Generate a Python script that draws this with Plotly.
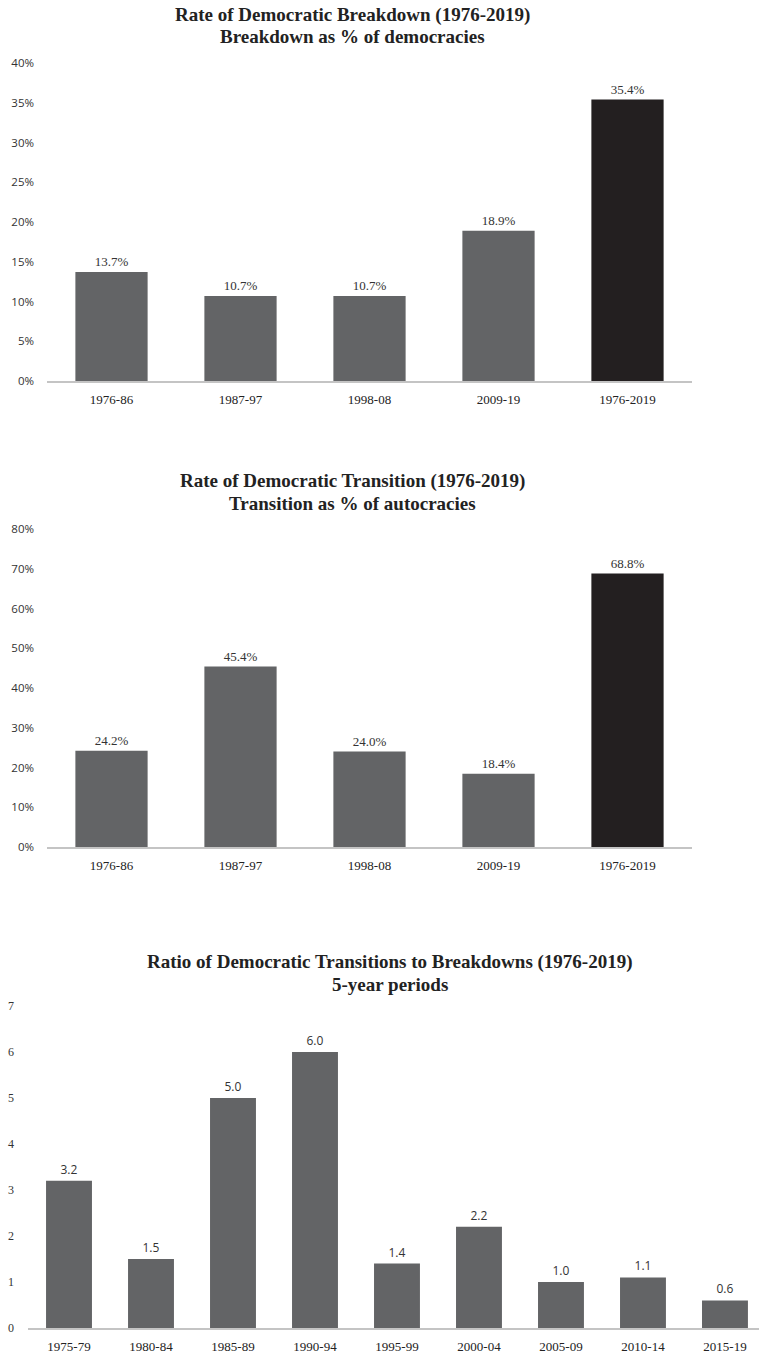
import plotly.graph_objects as go

W, H = 759, 1355

# ---- data ----
periods_11 = ["1976-86", "1987-97", "1998-08", "2009-19", "1976-2019"]
breakdown_pct = [13.7, 10.7, 10.7, 18.9, 35.4]
transition_pct = [24.2, 45.4, 24.0, 18.4, 68.8]
periods_5 = ["1975-79", "1980-84", "1985-89", "1990-94", "1995-99",
             "2000-04", "2005-09", "2010-14", "2015-19"]
ratio_values = [3.2, 1.5, 5.0, 6.0, 1.4, 2.2, 1.0, 1.1, 0.6]

titles = [
    ("Rate of Democratic Breakdown (1976-2019)", "Breakdown as % of democracies"),
    ("Rate of Democratic Transition (1976-2019)", "Transition as % of autocracies"),
    ("Ratio of Democratic Transitions to Breakdowns (1976-2019)", "5-year periods"),
]

GRAY = "#636466"
DARK = "#231f20"
AXIS = "#c4c4c4"
SERIF = "Liberation Serif"
SANS = "Open Sans"

def px_x(x):
    return x / W

def px_y(y):
    return 1 - y / H

def colors_for(n, last_dark):
    c = [GRAY] * n
    if last_dark:
        c[-1] = DARK
    return c

fig = go.Figure()

fig.add_trace(go.Bar(
    x=periods_11, y=breakdown_pct, xaxis="x", yaxis="y",
    marker=dict(color=colors_for(5, True), line=dict(width=0)),
    text=[f"{v:.1f}%" for v in breakdown_pct], textposition="outside",
    textfont=dict(family=SERIF, size=13, color="#333333"), cliponaxis=False,
    hoverinfo="skip", showlegend=False,
))
fig.add_trace(go.Bar(
    x=periods_11, y=transition_pct, xaxis="x2", yaxis="y2",
    marker=dict(color=colors_for(5, True), line=dict(width=0)),
    text=[f"{v:.1f}%" for v in transition_pct], textposition="outside",
    textfont=dict(family=SERIF, size=13, color="#333333"), cliponaxis=False,
    hoverinfo="skip", showlegend=False,
))
fig.add_trace(go.Bar(
    x=periods_5, y=ratio_values, xaxis="x3", yaxis="y3",
    marker=dict(color=colors_for(9, False), line=dict(width=0)),
    text=[f"{v:.1f}" for v in ratio_values], textposition="outside",
    textfont=dict(family=SANS, size=12, color="#333333"), cliponaxis=False,
    hoverinfo="skip", showlegend=False,
))

xcommon = dict(type="category", automargin=False, showline=True, linecolor=AXIS,
               linewidth=2, showgrid=False, zeroline=False, ticks="",
               tickfont=dict(family=SERIF, size=13, color="#222222"),
               fixedrange=True, ticklabelstandoff=5)
ycommon = dict(automargin=False, showline=False, showgrid=False, zeroline=False,
               ticks="", fixedrange=True)

fig.update_layout(
    template="none",
    width=W, height=H,
    margin=dict(l=0, r=0, t=0, b=0),
    paper_bgcolor="white", plot_bgcolor="white",
    bargap=0.44,
    xaxis=dict(**xcommon, domain=[px_x(47), px_x(692)], anchor="y",
               range=[-0.5, 4.5]),
    yaxis=dict(**ycommon, domain=[px_y(381), px_y(63)], anchor="x",
               range=[0, 40], dtick=5, ticksuffix="%",
               tickfont=dict(family=SANS, size=11.5, color="#333333"),
               ticklabelstandoff=12),
    xaxis2=dict(**xcommon, domain=[px_x(47), px_x(692)], anchor="y2",
                range=[-0.5, 4.5]),
    yaxis2=dict(**ycommon, domain=[px_y(847), px_y(529)], anchor="x2",
                range=[0, 80], dtick=10, ticksuffix="%",
                tickfont=dict(family=SANS, size=11.5, color="#333333"),
                ticklabelstandoff=12),
    xaxis3=dict(**xcommon, domain=[px_x(28), 1.0], anchor="y3",
                range=[-0.5, 8.415]),
    yaxis3=dict(**ycommon, domain=[px_y(1328), px_y(1006)], anchor="x3",
                range=[0, 7], dtick=1,
                tickfont=dict(family=SERIF, size=12, color="#333333"),
                ticklabelstandoff=13),
)

title_pos = [(352, 15, 37), (352, 481, 503), (390, 962, 984)]
for (t1, t2), (cx, y1, y2) in zip(titles, title_pos):
    for txt, yy in ((t1, y1), (t2, y2)):
        fig.add_annotation(text=f"<b>{txt}</b>", xref="paper", yref="paper",
                           x=px_x(cx), y=px_y(yy), xanchor="center", yanchor="middle",
                           showarrow=False,
                           font=dict(family=SERIF, size=19, color="#222222"))

fig.write_html("out.html")
